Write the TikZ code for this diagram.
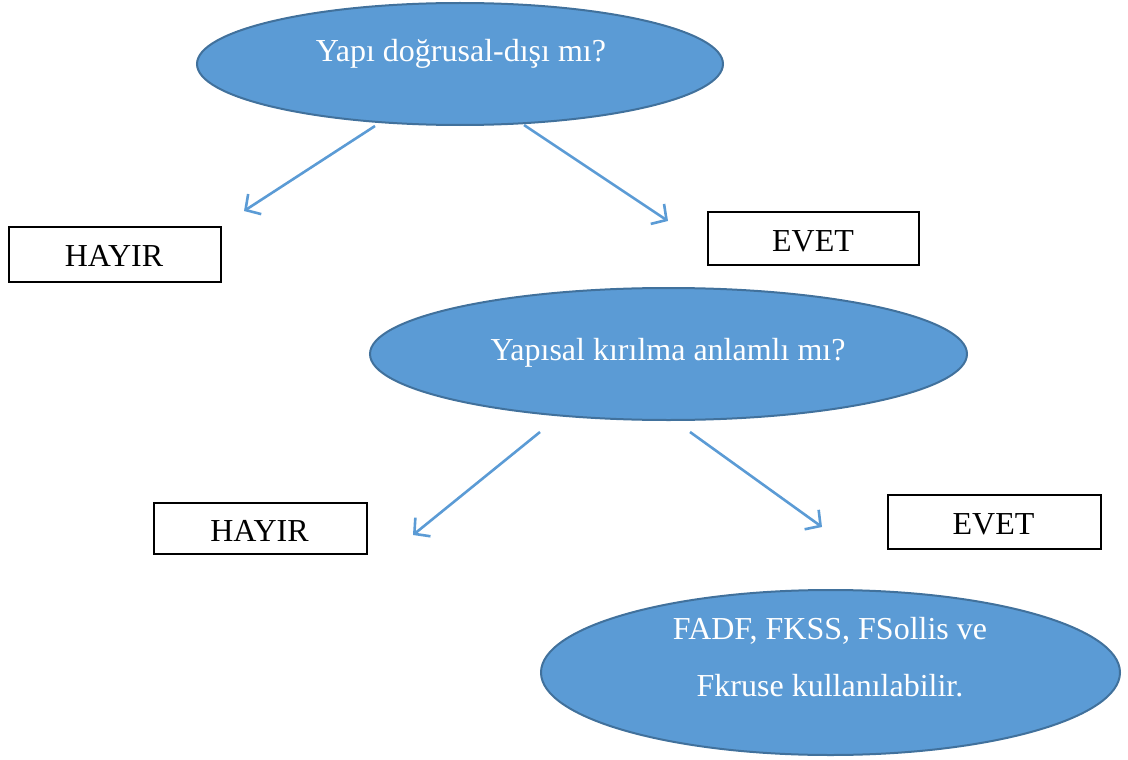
\documentclass[tikz,border=0pt]{standalone}
\usepackage{fontspec}
\setmainfont{Liberation Serif}
\usetikzlibrary{shapes.geometric,arrows.meta}
\definecolor{efill}{HTML}{5B9BD5}
\definecolor{edraw}{HTML}{41719C}
\tikzset{
  oval/.style={ellipse, draw=edraw, fill=efill, line width=2pt, inner sep=0pt},
  otext/.style={text=white, font=\fontsize{32}{34}\selectfont, inner sep=0pt, anchor=base},
  answer/.style={draw=black, line width=2.4pt, fill=white, inner sep=0pt, anchor=north west},
  atext/.style={font=\fontsize{32}{34}\selectfont, inner sep=0pt, anchor=base},
  conn/.style={draw=efill, line width=2.6pt, -{Straight Barb[length=11pt,width=24pt,line width=2.6pt]}},
}
\begin{document}
\begin{tikzpicture}[x=1pt,y=-1pt]
\useasboundingbox (0,0) rectangle (1128,760);
% ellipses
\node[oval, minimum width=526pt, minimum height=122pt] (e1) at (460,64) {};
\node[otext] (t1) at (461,62) {Yapı doğrusal-dışı mı?};
\node[oval, minimum width=597pt, minimum height=132pt] (e2) at (668.5,354) {};
\node[otext] (t2) at (668,360) {Yapısal kırılma anlamlı mı?};
\node[oval, minimum width=579pt, minimum height=165pt] (e3) at (830.5,672.5) {};
\node[otext] (t3a) at (830,639) {FADF, FKSS, FSollis ve};
\node[otext] (t3b) at (830,696) {Fkruse kullanılabilir.};
% boxes
\node[answer, minimum width=212pt, minimum height=55pt] (h1) at (8,226) {};
\node[atext] (h1t) at (114,266) {HAYIR};
\node[answer, minimum width=211pt, minimum height=53pt] (y1) at (707,211) {};
\node[atext] (y1t) at (813,251) {EVET};
\node[answer, minimum width=213pt, minimum height=51pt] (h2) at (153,502) {};
\node[atext] (h2t) at (259.5,541) {HAYIR};
\node[answer, minimum width=213pt, minimum height=54pt] (y2) at (887,494) {};
\node[atext] (y2t) at (993.5,534) {EVET};
% connectors
\coordinate (a1s) at (375,126);
\coordinate (a1e) at (244,211);
\coordinate (a2s) at (524,125);
\coordinate (a2e) at (668,221);
\coordinate (a3s) at (540,432);
\coordinate (a3e) at (413,535);
\coordinate (a4s) at (690,432);
\coordinate (a4e) at (822,527);
\draw[conn] (a1s) -- (a1e);
\draw[conn] (a2s) -- (a2e);
\draw[conn] (a3s) -- (a3e);
\draw[conn] (a4s) -- (a4e);
\end{tikzpicture}
\end{document}
